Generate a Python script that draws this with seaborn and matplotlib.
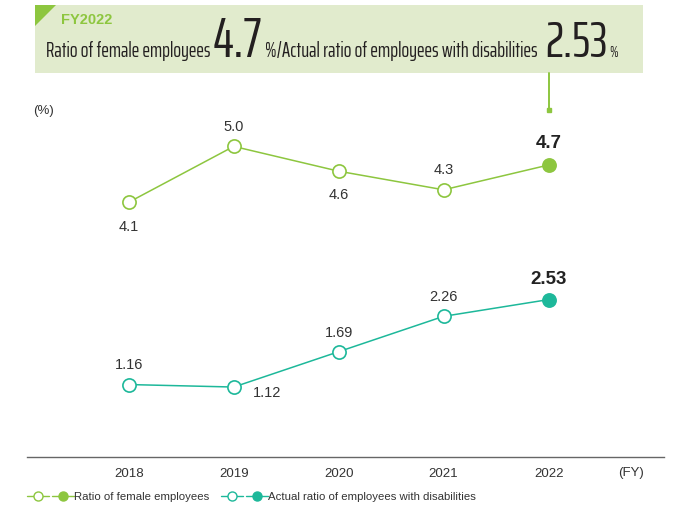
import matplotlib
matplotlib.use('Agg')
import matplotlib.pyplot as plt
import seaborn as sns
from matplotlib.lines import Line2D
from matplotlib.patches import Rectangle, Polygon
from matplotlib.legend_handler import HandlerTuple
from matplotlib import font_manager
from matplotlib.font_manager import FontProperties

years = [2018, 2019, 2020, 2021, 2022]
female = [4.1, 5.0, 4.6, 4.3, 4.7]
disab = [1.16, 1.12, 1.69, 2.26, 2.53]
female_name = 'Ratio of female employees'
disab_name = 'Actual ratio of employees with disabilities'

GREEN = '#8dc63f'
TEAL = '#1db89a'
BG = '#e1ebcd'
TXT = '#333333'

sns.set_theme(style='white')
plt.rcParams['font.family'] = ['Liberation Sans', 'DejaVu Sans']


# pick the narrowest sans face available for the header
def pick_narrow():
    names = {f.name for f in font_manager.fontManager.ttflist}
    narrow = [n for n in names if ('Narrow' in n or 'Condensed' in n)
              and 'Mono' not in n and 'Serif' not in n]
    for key in ['Liberation Sans Narrow', 'ExtraCondensed', 'Narrow', 'Condensed']:
        hit = sorted(n for n in narrow if key in n)
        if hit:
            return dict(family=hit[0])
    for fam, st in [('Noto Sans', 'extra-condensed'), ('Noto Sans', 'condensed'),
                    ('DejaVu Sans', 'condensed')]:
        try:
            path = font_manager.findfont(FontProperties(family=fam, stretch=st),
                                         fallback_to_default=False)
        except Exception:
            continue
        if 'Condensed' in path:
            return dict(family=fam, stretch=st)
    return dict(family='Liberation Sans')


head_fp = pick_narrow()

W, H = 678, 514
fig = plt.figure(figsize=(W / 100, H / 100), dpi=100)


def fx(px):
    return px / W


def fy(py):
    return 1 - py / H


ax = fig.add_axes([fx(27), fy(456.5), fx(664) - fx(27), fy(116) - fy(456.5)])
ax.set_xlim(2017.03, 2023.1)
ax.set_ylim(0, 5.49)

# lines with open markers, last year filled
for vals, col in [(female, GREEN), (disab, TEAL)]:
    sns.lineplot(x=years, y=vals, ax=ax, color=col, linewidth=1.1,
                 marker='o', markersize=9.5, markerfacecolor='white',
                 markeredgecolor=col, markeredgewidth=1.2, zorder=2)
    sns.scatterplot(x=years[-1:], y=vals[-1:], ax=ax, color=col, s=80,
                    edgecolor=col, linewidth=0.5, zorder=3)

# value labels (offsets in px, positive = down)
f_off = [(0, 25), (0, -19), (0, 24), (0, -20), (0, -21)]
d_off = [(0, -20), (33, 6), (0, -19), (0, -19), (0, -20)]
for vals, offs, fmt in [(female, f_off, '{:.1f}'), (disab, d_off, '{:.2f}')]:
    for i, (x, v) in enumerate(zip(years, vals)):
        last = i == len(years) - 1
        ax.annotate(fmt.format(v), (x, v), xytext=(offs[i][0] * 0.72, -offs[i][1] * 0.72),
                    textcoords='offset points', ha='center', va='center',
                    fontsize=13.5 if last else 10.5, fontweight='bold' if last else 'normal',
                    color='#222222' if last else TXT)

ax.set_xticks(years)
ax.set_xticklabels([str(y) for y in years], fontsize=9.5, color=TXT)
ax.set_yticks([])
ax.tick_params(axis='x', length=0, pad=8)
for s in ['left', 'right', 'top']:
    ax.spines[s].set_visible(False)
ax.spines['bottom'].set_color('#666666')
ax.spines['bottom'].set_linewidth(1.0)
ax.set_xlabel('')
ax.set_ylabel('')

fig.text(fx(631), fy(473), '(FY)', ha='center', va='center', fontsize=9.5, color=TXT)
fig.text(fx(44), fy(111), '(%)', ha='center', va='center', fontsize=9.5, color=TXT)

# header box
fig.add_artist(Rectangle((fx(35), fy(73)), fx(643) - fx(35), fy(5) - fy(73),
                         transform=fig.transFigure, facecolor=BG, edgecolor='none', zorder=0))
fig.add_artist(Polygon([(fx(35), fy(5)), (fx(56), fy(5)), (fx(35), fy(26))], closed=True,
                       transform=fig.transFigure, facecolor=GREEN, edgecolor='none', zorder=1))
fig.text(fx(61), fy(20), 'FY2022', ha='left', va='center', fontsize=10.5,
         fontweight='bold', color=GREEN)

# header run: each piece is sized to the width it takes in the reference
pieces = [female_name, '4.7', '%/' + disab_name, '2.53', '%']
starts = [46, 213, 265, 545, 609]
spans = [164, 49, 273, 62, 16]
max_size = [16, 44, 16, 44, 11]
renderer = fig.canvas.get_renderer()
for txt, x0, span, cap in zip(pieces, starts, spans, max_size):
    t = fig.text(0, 0, txt, fontsize=20, **head_fp)
    w = t.get_window_extent(renderer=renderer).width
    t.remove()
    size = min(cap, 20 * span / w)
    fig.text(fx(x0), fy(57), txt, ha='left', va='baseline', fontsize=size,
             color='#231f20', **head_fp)

# pointer line
fig.add_artist(Line2D([fx(549), fx(549)], [fy(73), fy(110)], transform=fig.transFigure,
                      color=GREEN, linewidth=1.4))
fig.add_artist(Line2D([fx(549)], [fy(110)], transform=fig.transFigure, color=GREEN,
                      marker='s', markersize=3, linestyle='none'))


# legend
def pair(col):
    o = Line2D([], [], color=col, linewidth=1.0, marker='o', markersize=6.5,
               markerfacecolor='white', markeredgecolor=col, markeredgewidth=1.0)
    f = Line2D([], [], color=col, linewidth=1.0, marker='o', markersize=6.5,
               markerfacecolor=col, markeredgecolor=col)
    return (o, f)


fig.legend([pair(GREEN), pair(TEAL)], [female_name, disab_name],
           handler_map={tuple: HandlerTuple(ndivide=None, pad=0.3)},
           loc='center left', bbox_to_anchor=(fx(27), fy(497)), bbox_transform=fig.transFigure,
           ncol=2, frameon=False, fontsize=8.2, handlelength=4.1, handletextpad=0.05,
           columnspacing=1.0, borderpad=0, borderaxespad=0, labelcolor=TXT)

fig.savefig('out.png', dpi=100)
